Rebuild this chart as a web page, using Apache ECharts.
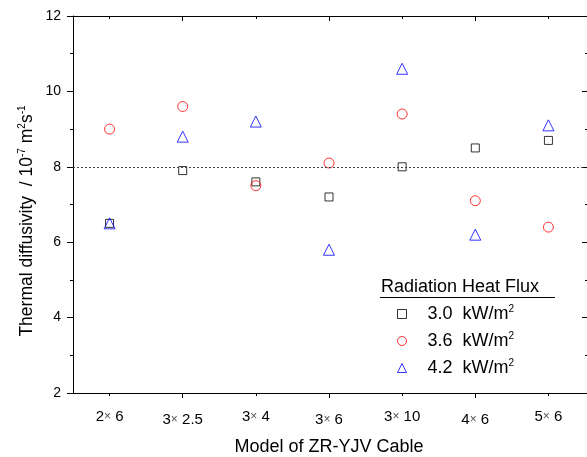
<!DOCTYPE html>
<html>
<head>
<meta charset="utf-8">
<script src="https://cdn.jsdelivr.net/npm/echarts@6/dist/echarts.min.js"></script>
<style>
html, body { margin: 0; padding: 0; background: #fff; }
#chart { width: 587px; height: 457px; }
</style>
</head>
<body>
<div id="chart"></div>
<script>
// cable models along x
var categories = ['2× 6', '3× 2.5', '3× 4', '3× 6', '3× 10', '4× 6', '5× 6'];
// thermal diffusivity, 10^-7 m2/s
var flux30 = [6.5, 7.9, 7.6, 7.2, 8.0, 8.5, 8.7];
var flux36 = [9.0, 9.6, 7.5, 8.1, 9.4, 7.1, 6.4];
var flux42 = [6.5, 8.8, 9.2, 5.8, 10.6, 6.2, 9.1];
var seriesNames = ['3.0  kW/m', '3.6  kW/m', '4.2  kW/m'];
var yMin = 2, yMax = 12, yStep = 2;
var refLine = 8;

var font = 'Liberation Sans';
var myChart = echarts.init(document.getElementById('chart'));

function xLabel(v, i) {
	// labels sit a little higher / lower alternately
	if (i % 2) return '{lo|' + v.replace('×', '}{xl|×}{lo|') + '}';
	return '{hi|' + v.replace('×', '}{x|×}{hi|') + '}';
}

function catAxis(pos, opts) {
	var a = {
		type: 'category',
		position: pos,
		data: categories,
		boundaryGap: true,
		axisLine: { show: true, lineStyle: { color: '#000', width: 1 } },
		axisTick: { show: true, alignWithLabel: true, length: 3, inside: pos == 'top', lineStyle: { color: '#000' } },
		axisLabel: { show: false },
		splitLine: { show: false }
	};
	return Object.assign(a, opts || {});
}

var oddTicks = function(index) { return index % 2 === 1; };

option = {
	animation: false,
	grid: { left: 73, right: 2, top: 16, bottom: 64, outerBoundsMode: 'none', containLabel: false },
	xAxis: [
		catAxis('bottom', {
			axisLabel: {
				show: true,
				interval: 0,
				margin: 16,
				color: '#000',
				fontFamily: font,
				formatter: xLabel,
				rich: {
					hi: { fontSize: 15, fontFamily: font, color: '#000' },
					lo: { fontSize: 15, fontFamily: font, color: '#000', padding: [3, 0, 0, 0] },
					x: { fontSize: 12, fontFamily: font, color: '#555' },
					xl: { fontSize: 12, fontFamily: font, color: '#555', padding: [3, 0, 0, 0] }
				}
			},
			name: 'Model of ZR-YJV Cable',
			nameLocation: 'middle',
			nameGap: 45,
			nameTextStyle: { fontSize: 18, fontFamily: font, color: '#000' }
		}),
		catAxis('bottom', { axisLine: { show: false }, axisTick: { show: true, alignWithLabel: true, length: 5, interval: oddTicks, lineStyle: { color: '#000' } } }),
		catAxis('top'),
		catAxis('top', { axisLine: { show: false }, axisTick: { show: true, alignWithLabel: true, inside: true, length: 5, interval: oddTicks, lineStyle: { color: '#000' } } })
	],
	yAxis: [{
		type: 'value',
		position: 'left',
		min: yMin,
		max: yMax,
		interval: yStep,
		axisLine: { show: true, lineStyle: { color: '#000' } },
		axisTick: { show: true, length: 6, lineStyle: { color: '#000' } },
		minorTick: { show: true, splitNumber: 2, length: 3, lineStyle: { color: '#000' } },
		axisLabel: { margin: 12, fontSize: 14, fontFamily: font, color: '#000' },
		splitLine: { show: false }
	}, {
		type: 'value',
		position: 'right',
		offset: 2,
		min: yMin,
		max: yMax,
		interval: yStep,
		axisLine: { show: false },
		axisTick: { show: true, inside: true, length: 5, lineStyle: { color: '#000' } },
		minorTick: { show: true, splitNumber: 2, length: 2, lineStyle: { color: '#000' } },
		axisLabel: { show: false },
		splitLine: { show: false }
	}],
	legend: {
		orient: 'vertical',
		left: 392,
		top: 299,
		itemWidth: 9,
		itemHeight: 9,
		itemGap: 8,
		data: seriesNames,
		itemStyle: { borderWidth: 1 },
		formatter: function(name) {
			return '{a|' + name + '}{s|2}';
		},
		textStyle: {
			fontFamily: font,
			color: '#000',
			rich: {
				a: { fontSize: 18, fontFamily: font, color: '#000', lineHeight: 20, padding: [0, 0, 0, 16] },
				s: { fontSize: 10, fontFamily: font, color: '#000', verticalAlign: 'top', lineHeight: 10 }
			}
		}
	},
	graphic: [{
		type: 'text',
		x: 27,
		y: 221,
		rotation: Math.PI / 2,
		style: {
			text: 'Thermal diffusivity  / 10{s|-7} m{s|2}s{s|-1}',
			fontSize: 17.5,
			fontFamily: font,
			fill: '#000',
			align: 'center',
			verticalAlign: 'middle',
			lineHeight: 20,
			rich: {
				s: { fontSize: 10, fontFamily: font, fill: '#000', verticalAlign: 'top', lineHeight: 10 }
			}
		}
	}, {
		type: 'text',
		x: 381,
		y: 287,
		style: {
			text: 'Radiation Heat Flux',
			fontSize: 18,
			fontFamily: font,
			fill: '#000',
			align: 'left',
			verticalAlign: 'middle'
		}
	}, {
		type: 'line',
		shape: { x1: 380, y1: 297.5, x2: 555, y2: 297.5 },
		style: { stroke: '#000', lineWidth: 1 }
	}],
	series: [{
		name: seriesNames[0],
		type: 'scatter',
		symbol: 'rect',
		symbolSize: 8,
		itemStyle: { color: 'rgba(255,255,255,0)', borderColor: '#000', borderWidth: 1 },
		data: flux30,
		markLine: {
			silent: true,
			symbol: 'none',
			label: { show: false },
			lineStyle: { type: [2, 2], color: '#444', width: 1.2 },
			data: [{ yAxis: refLine }]
		}
	}, {
		name: seriesNames[1],
		type: 'scatter',
		symbol: 'circle',
		symbolSize: 10,
		itemStyle: { color: 'rgba(255,255,255,0)', borderColor: '#ff0000', borderWidth: 1 },
		data: flux36
	}, {
		name: seriesNames[2],
		type: 'scatter',
		symbol: 'triangle',
		symbolSize: 11,
		itemStyle: { color: 'rgba(255,255,255,0)', borderColor: '#0000ff', borderWidth: 1 },
		data: flux42
	}]
};
myChart.setOption(option);
</script>
</body>
</html>
